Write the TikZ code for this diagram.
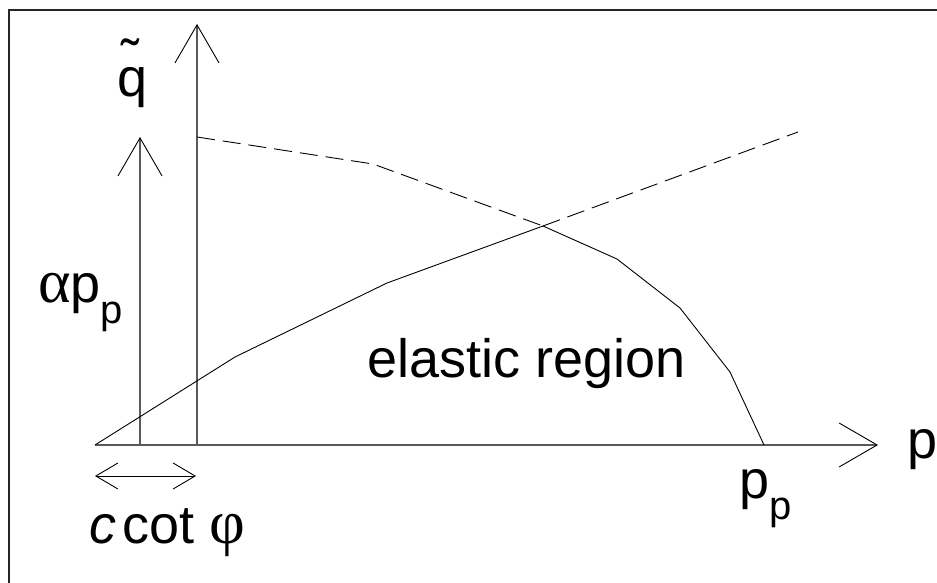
\documentclass[tikz,border=0pt]{standalone}
\usepackage{fontspec}
\setmainfont{Liberation Sans}
\newfontfamily\greekfont{Liberation Serif}
\usetikzlibrary{arrows.meta}
\newcommand{\subp}{\raisebox{-21pt}{\fontsize{40}{42}\selectfont p}}
\newcommand{\grk}[1]{{\greekfont\fontsize{62}{64}\selectfont #1}}
\tikzset{
  axisline/.style={line width=1.4pt, draw=black!65},
  thinline/.style={line width=0.9pt, draw=black},
  dashline/.style={line width=0.9pt, draw=black, dash pattern=on 18pt off 8pt},
  vtip/.style={-{Straight Barb[length=38pt, width=44pt, line width=0.9pt, color=black]}},
  lbl/.style={anchor=base west, inner sep=0pt, font=\fontsize{54}{60}\selectfont},
}
\begin{document}
\begin{tikzpicture}[x=1pt, y=-1pt]
\useasboundingbox (0,0) rectangle (937,583);
\fill[white] (0,0) rectangle (937,583);
\draw[line width=2pt, black!85] (8.5,583) -- (8.5,10) -- (937,10);
% coordinates
\coordinate (O) at (95,445);
\coordinate (xend) at (878,445);
\coordinate (mvb) at (197,445);
\coordinate (mvt) at (197,24);
\coordinate (svb) at (140,445);
\coordinate (svt) at (140,137);
\coordinate (dl) at (95,476);
\coordinate (dr) at (196,476);
\coordinate (a1) at (235,357);
\coordinate (a2) at (387,283);
\coordinate (X) at (543,226);
\coordinate (a3) at (798,132);
\coordinate (b0) at (197,137);
\coordinate (b1) at (373,164);
\coordinate (b2) at (617,259);
\coordinate (b3) at (680,308);
\coordinate (b4) at (730,372);
\coordinate (pp) at (764,445);
% axes
\draw[axisline, vtip] (O) -- (xend);
\draw[axisline, vtip] (mvb) -- (mvt);
\draw[axisline, vtip] (svb) -- (svt);
\draw[thinline, {Straight Barb[length=22pt, width=26pt]}-{Straight Barb[length=22pt, width=26pt]}] (dl) -- (dr);
% curves
\draw[thinline] (O) -- (a1) -- (a2) -- (X);
\draw[dashline] (X) -- (a3);
\draw[dashline] (b0) -- (b1) -- (X);
\draw[thinline] (X) -- (b2) -- (b3) -- (b4) -- (pp);
% labels
\node[lbl] (er) at (367,377) {elastic region};
\node[lbl] (ap) at (38,302) {\grk{α}p\subp};
\node[lbl] (q) at (117,97) {\rlap{\hspace{4pt}\raisebox{19pt}{˜}}q};
\node[lbl] (cc) at (89,543) {\textit{c}\hspace{6pt}cot \grk{φ}};
\node[lbl] (px) at (907,458) {p};
\node[lbl] (ppl) at (739,498) {p\subp};
\end{tikzpicture}
\end{document}
